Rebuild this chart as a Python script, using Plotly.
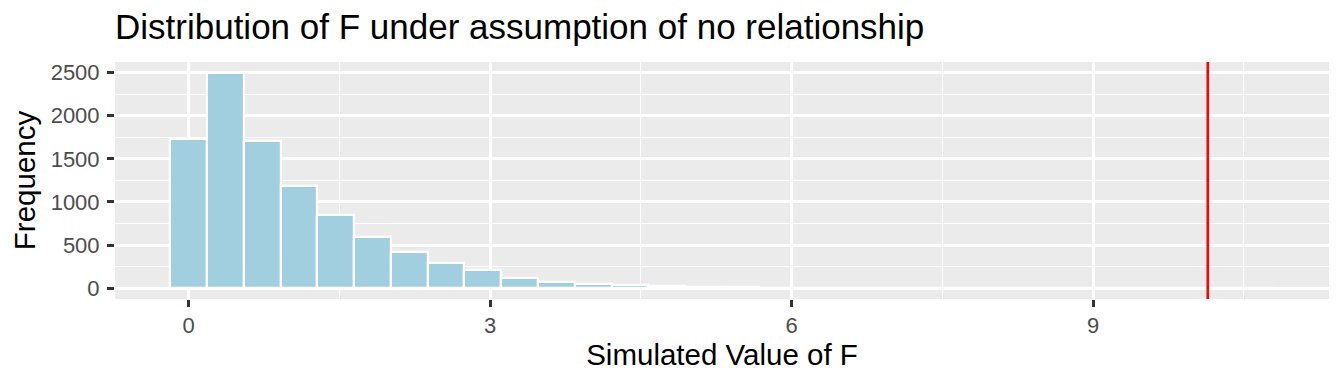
import plotly.graph_objects as go

# ---- data ----
bin_width = 0.366
bin_centers = [0.000, 0.366, 0.732, 1.098, 1.464, 1.830, 2.196, 2.562, 2.928, 3.294,
               3.660, 4.026, 4.392, 4.758, 5.124, 5.490, 5.856, 6.222, 6.588, 6.954,
               7.320, 7.686, 8.052, 8.418, 8.784, 9.150, 9.516, 9.882, 10.248, 10.614]
counts = [1730, 2497, 1707, 1183, 847, 593, 415, 297, 208, 119,
          69, 46, 40, 25, 17, 11, 8, 5, 4, 3,
          2, 2, 1, 1, 1, 0, 1, 0, 0, 1]
f_observed = 10.14

x_ticks = [0, 3, 6, 9]
x_minor = [1.5, 4.5, 7.5, 10.5]
y_ticks = [0, 500, 1000, 1500, 2000, 2500]
y_minor = [250, 750, 1250, 1750, 2250]

title_text = "Distribution of F under assumption of no relationship"
x_title = "Simulated Value of F"
y_title = "Frequency"

# scale limits as ggplot would compute them (5% expansion)
x_lo = bin_centers[0] - bin_width / 2
x_hi = bin_centers[-1] + bin_width / 2
x_pad = 0.05 * (x_hi - x_lo)
y_max = max(counts)
y_pad = 0.05 * y_max

FONT = "Liberation Sans, Arial, Helvetica, sans-serif"

# the page body has an 8px margin, so the figure is drawn 8px smaller
FIG_W, FIG_H = 1336, 376

fig = go.Figure()
fig.add_trace(go.Bar(
    x=bin_centers, y=counts, width=bin_width,
    marker=dict(color="#A1CFE0", line=dict(color="white", width=2.2)),
    showlegend=False, hoverinfo="x+y",
))
fig.add_shape(type="line", x0=f_observed, x1=f_observed, y0=0, y1=1,
              xref="x", yref="paper", line=dict(color="#FF0000", width=2.6))

fig.update_layout(
    width=FIG_W, height=FIG_H,
    margin=dict(l=107, r=15, t=54, b=85, autoexpand=False),
    paper_bgcolor="white", plot_bgcolor="#EBEBEB",
    font=dict(family=FONT),
    title=dict(text=title_text, x=0, xref="paper", xanchor="left",
               y=1 - 19 / FIG_H, yref="container", yanchor="middle",
               font=dict(size=35, color="black", family=FONT)),
    bargap=0,
)
axis_common = dict(
    ticks="outside", ticklen=7, tickwidth=2.6, tickcolor="#333333",
    tickfont=dict(size=22, color="#4D4D4D", family=FONT),
    showgrid=True, gridcolor="white", gridwidth=2.6,
    zeroline=False, showline=False,
)
fig.update_xaxes(
    range=[x_lo - x_pad, x_hi + x_pad], tickvals=x_ticks, ticktext=[str(v) for v in x_ticks],
    minor=dict(tickvals=x_minor, showgrid=True, gridcolor="white", gridwidth=1.3, ticks=""),
    title=dict(text=x_title, font=dict(size=29.5, color="black", family=FONT), standoff=4),
    **axis_common,
)
fig.update_yaxes(
    range=[-y_pad, y_max + y_pad], tickvals=y_ticks, ticktext=[str(v) for v in y_ticks],
    minor=dict(tickvals=y_minor, showgrid=True, gridcolor="white", gridwidth=1.3, ticks=""),
    ticklabelstandoff=3,
    title=dict(text=y_title, font=dict(size=29.5, color="black", family=FONT), standoff=6),
    **axis_common,
)

fig.write_html("out.html")
